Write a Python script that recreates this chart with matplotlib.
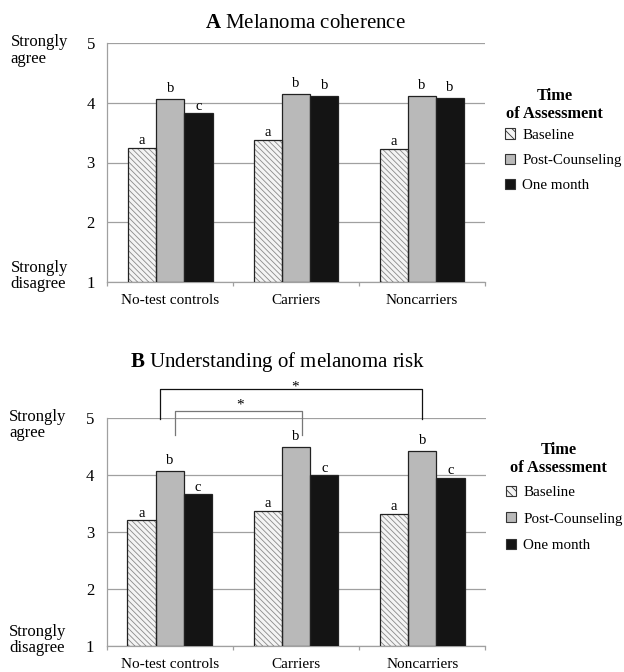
import matplotlib
matplotlib.use("Agg")
import matplotlib.pyplot as plt
from matplotlib.patches import Patch
import numpy as np

plt.rcParams['font.family'] = ['Liberation Serif', 'DejaVu Serif']
plt.rcParams['mathtext.fontset'] = 'custom'
plt.rcParams['mathtext.rm'] = 'Liberation Serif'
plt.rcParams['mathtext.bf'] = 'Liberation Serif:bold'
plt.rcParams['hatch.linewidth'] = 0.6

W, H = 624, 672

groups = ["No-test controls", "Carriers", "Noncarriers"]
times = ["Baseline", "Post-Counseling", "One month"]

coherence = {
    "Baseline": [3.25, 3.38, 3.23],
    "Post-Counseling": [4.06, 4.15, 4.12],
    "One month": [3.83, 4.12, 4.09],
}
coherence_letters = [["a", "b", "c"], ["a", "b", "b"], ["a", "b", "b"]]

understanding = {
    "Baseline": [3.21, 3.38, 3.32],
    "Post-Counseling": [4.08, 4.49, 4.43],
    "One month": [3.67, 4.00, 3.96],
}
understanding_letters = [["a", "b", "c"], ["a", "b", "c"], ["a", "b", "c"]]

colors = {"Baseline": "#f4f4f4", "Post-Counseling": "#b9b9b9", "One month": "#141414"}
width = 0.224


def draw_panel(fig, ax, data, letters, title, title_xy, leg_title_xy, leg_xy, leg_spacing):
    x = np.arange(len(groups))
    for j, t in enumerate(times):
        pos = x + (j - 1) * width
        if t == "Baseline":
            ax.bar(pos, np.array(data[t]) - 1, width, bottom=1, color=colors[t],
                   hatch='\\\\\\\\\\\\', edgecolor='#8a8a8a', linewidth=0, zorder=3)
        else:
            ax.bar(pos, np.array(data[t]) - 1, width, bottom=1, color=colors[t],
                   linewidth=0, zorder=3)
        ax.bar(pos, np.array(data[t]) - 1, width, bottom=1, fill=False,
               edgecolor='#222222', linewidth=0.9, zorder=4)
        for i in range(len(groups)):
            lab = letters[i][j]
            off = 5 if lab == "b" else 2.5
            ax.annotate(lab, (pos[i], data[t][i]), xytext=(0, off),
                        textcoords='offset points', ha='center', va='baseline',
                        fontsize=10.5)

    ax.set_xlim(-0.5, 2.5)
    ax.set_ylim(1, 5)
    ax.set_yticks([1, 2, 3, 4, 5])
    ax.yaxis.grid(True, color='#a0a0a0', linewidth=0.9, zorder=0)
    ax.set_axisbelow(True)
    ax.tick_params(axis='y', length=0, labelsize=12, pad=9)
    ax.set_xticks(x)
    ax.set_xticklabels(groups, fontsize=11)
    ax.tick_params(axis='x', which='major', length=0, pad=8.5)
    ax.set_xticks([-0.5, 0.5, 1.5, 2.5], minor=True)
    ax.tick_params(axis='x', which='minor', length=3, color='#a0a0a0', width=0.9)
    for s in ['top', 'right']:
        ax.spines[s].set_visible(False)
    for s in ['left', 'bottom']:
        ax.spines[s].set_color('#a0a0a0')
        ax.spines[s].set_linewidth(0.9)

    tr = ax.get_yaxis_transform()
    ax.text(-0.257, 4.88, "Strongly\nagree", transform=tr, ha='left', va='center',
            fontsize=12, linespacing=1.03)
    ax.text(-0.257, 1.10, "Strongly\ndisagree", transform=tr, ha='left', va='center',
            fontsize=12, linespacing=1.03)
    fig.text(title_xy[0] / W, 1 - title_xy[1] / H, title, ha='center', va='center',
             fontsize=15)

    fig.text(leg_title_xy[0] / W, 1 - leg_title_xy[1] / H, "Time\nof Assessment",
             ha='center', va='center', multialignment='center', fontsize=11.8,
             fontweight='bold', linespacing=1.25)
    handles = [Patch(facecolor=colors["Baseline"], hatch='\\\\\\\\', edgecolor='#333333', linewidth=0.8),
               Patch(facecolor=colors["Post-Counseling"], edgecolor='#333333', linewidth=0.8),
               Patch(facecolor=colors["One month"], edgecolor='#333333', linewidth=0.8)]
    ax.legend(handles, times, loc='upper left',
              bbox_to_anchor=(leg_xy[0] / W, 1 - leg_xy[1] / H),
              bbox_transform=fig.transFigure,
              frameon=False, fontsize=10.8, handlelength=0.65, handleheight=0.65,
              handletextpad=0.5, labelspacing=leg_spacing, borderaxespad=0,
              borderpad=0)
    return ax


fig = plt.figure(figsize=(W / 100, H / 100), dpi=100)
ax_a = fig.add_axes([107.4 / W, 1 - 281.7 / H, 377.3 / W, 238.4 / H])
ax_b = fig.add_axes([106.6 / W, 1 - 646.0 / H, 378.9 / W, 227.7 / H])

draw_panel(fig, ax_a, coherence, coherence_letters, r"$\mathbf{A}$ Melanoma coherence",
           (305.5, 23.5), (554.7, 105), (505, 128.5), 0.8)
draw_panel(fig, ax_b, understanding, understanding_letters,
           r"$\mathbf{B}$ Understanding of melanoma risk",
           (278.2, 361.7), (558.8, 459), (506, 485.5), 0.9)

# significance brackets in panel B
ax_b.plot([-0.075, -0.075, 1.995, 1.995], [4.98, 5.51, 5.51, 4.98], color='#111111',
          linewidth=0.9, clip_on=False)
ax_b.text(0.994, 5.49, "*", ha='center', va='baseline', fontsize=11)
ax_b.plot([0.045, 0.045, 1.05, 1.05], [4.71, 5.12, 5.12, 4.71], color='#777777',
          linewidth=0.9, clip_on=False)
ax_b.text(0.556, 5.165, "*", ha='center', va='baseline', fontsize=11)

fig.savefig("out.png", dpi=100)
